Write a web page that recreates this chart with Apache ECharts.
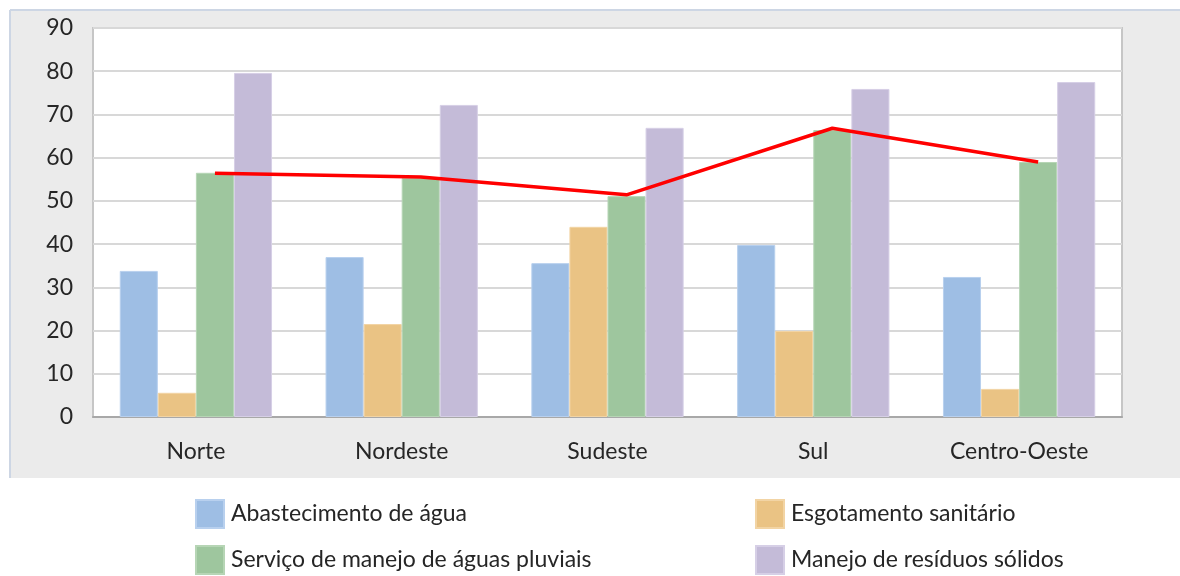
<!DOCTYPE html>
<html>
<head>
<meta charset="utf-8">
<script src="https://cdn.jsdelivr.net/npm/echarts@6/dist/echarts.min.js"></script>
<style>
  html, body { margin: 0; padding: 0; background: #fff; }
  #chart { width: 1180px; height: 576px; }
</style>
</head>
<body>
<div id="chart"></div>
<script>
var regioes = ["Norte", "Nordeste", "Sudeste", "Sul", "Centro-Oeste"];
var abastecimento = [33.8, 37.0, 35.6, 39.8, 32.4];
var esgotamento = [5.6, 21.5, 44.0, 19.9, 6.5];
var pluviais = [56.5, 55.3, 51.1, 66.4, 59.0];
var residuos = [79.6, 72.2, 66.9, 75.9, 77.5];
var media = [56.4, 55.5, 51.4, 66.8, 59.0];
var yTicks = [0, 10, 20, 30, 40, 50, 60, 70, 80, 90];

var fonte = "Lato, 'Open Sans', sans-serif";
var gapPct = 26;
// the red line goes through the middle of the 3rd bar of each group
var barW = (1 - gapPct / 100) / 4;
var offset = barW / 2;
var linhaData = media.map(function (v, i) { return [i + offset, v]; });

var legendaBase = {
  orient: "vertical", top: 499, height: 80, padding: 0,
  itemWidth: 28, itemHeight: 28, itemGap: 16, icon: "rect",
  textStyle: { fontSize: 23, color: "#262626", fontFamily: fonte, padding: [0, 0, 0, 2] }
};

var chart = echarts.init(document.getElementById("chart"));
var option = {
  backgroundColor: "#ffffff",
  animation: false,
  textStyle: { fontFamily: fonte },
  graphic: [
    { type: "rect", z: -10, shape: { x: 10, y: 10, width: 1170, height: 468 }, style: { fill: "#ebebeb" } },
    { type: "line", z: -9, shape: { x1: 10, y1: 10, x2: 1180, y2: 10 }, style: { stroke: "#cdd6e4", lineWidth: 2 } },
    { type: "line", z: -9, shape: { x1: 10, y1: 10, x2: 10, y2: 478 }, style: { stroke: "#cdd6e4", lineWidth: 2 } }
  ],
  grid: {
    left: 93, right: 58, top: 28, bottom: 159,
    show: true, backgroundColor: "#ffffff", borderColor: "#c6c6c6", borderWidth: 2
  },
  legend: [
    Object.assign({}, legendaBase, { left: 195, data: ["Abastecimento de água", "Serviço de manejo de águas pluviais"] }),
    Object.assign({}, legendaBase, { left: 755, data: ["Esgotamento sanitário", "Manejo de resíduos sólidos"] })
  ],
  xAxis: [
    {
      type: "category",
      data: regioes,
      axisTick: { show: false },
      axisLine: { lineStyle: { color: "#a8a8a8", width: 2 } },
      axisLabel: { fontSize: 23, color: "#262626", margin: 23, fontFamily: fonte }
    },
    { type: "value", min: -0.5, max: 4.5, show: false }
  ],
  yAxis: {
    type: "value",
    min: 0, max: 90, interval: 10,
    axisLine: { show: false },
    axisTick: { show: false },
    splitLine: { lineStyle: { color: "#d8d8d8", width: 2 } },
    axisLabel: {
      fontSize: 23, color: "#262626", margin: 20, fontFamily: fonte,
      formatter: function (v) { return yTicks.indexOf(v) >= 0 ? String(v) : ""; }
    }
  },
  series: [
    { name: "Abastecimento de água", type: "bar", data: abastecimento, barGap: "0%", barCategoryGap: gapPct + "%", itemStyle: { color: "#9ebee4", borderColor: "#b8d0ee", borderWidth: 1 } },
    { name: "Esgotamento sanitário", type: "bar", data: esgotamento, itemStyle: { color: "#eac384", borderColor: "#f2d4a4", borderWidth: 1 } },
    { name: "Serviço de manejo de águas pluviais", type: "bar", data: pluviais, itemStyle: { color: "#9ec69e", borderColor: "#b6d5b5", borderWidth: 1 } },
    { name: "Manejo de resíduos sólidos", type: "bar", data: residuos, itemStyle: { color: "#c4bbd8", borderColor: "#d6cfe6", borderWidth: 1 } },
    {
      name: "media", type: "line", xAxisIndex: 1, data: linhaData, z: 5,
      symbol: "none", lineStyle: { color: "#ff0000", width: 3.5 }
    }
  ]
};
chart.setOption(option);
</script>
</body>
</html>
